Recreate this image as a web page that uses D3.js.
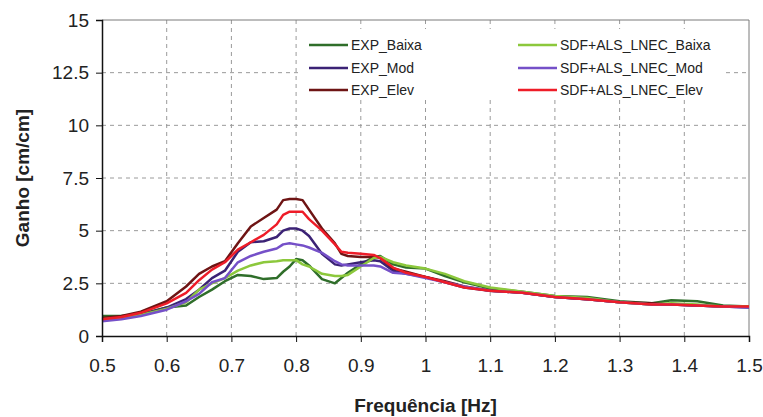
<!DOCTYPE html>
<html>
<head>
<meta charset="utf-8">
<script src="https://cdn.jsdelivr.net/npm/d3@7"></script>
<style>
  body { margin: 0; background: #fff; }
  text { font-family: "Liberation Sans", Arial, sans-serif; fill: #222; }
  .ticklbl { font-size: 19px; }
  .axtitle { font-size: 19px; font-weight: bold; }
  .leg { font-size: 14px; }
</style>
</head>
<body>
<div id="container-svg"></div>
<script>

// *********************** DATA ***********************
var freq = [0.5, 0.53, 0.56, 0.6, 0.63, 0.65, 0.67, 0.69, 0.71, 0.73, 0.75, 0.77, 0.78, 0.79,
            0.8, 0.81, 0.82, 0.84, 0.86, 0.87, 0.88, 0.9, 0.92, 0.93, 0.95, 0.97, 1.0, 1.03,
            1.06, 1.1, 1.15, 1.2, 1.25, 1.3, 1.35, 1.38, 1.42, 1.46, 1.5];

var exp_baixa = [0.95, 0.95, 1.05, 1.35, 1.45, 1.85, 2.2, 2.6, 2.9, 2.85, 2.7, 2.75, 3.05, 3.3,
                 3.65, 3.6, 3.35, 2.7, 2.5, 2.75, 3.0, 3.4, 3.75, 3.8, 3.4, 3.25, 3.2, 2.85,
                 2.55, 2.25, 2.1, 1.9, 1.85, 1.65, 1.55, 1.7, 1.65, 1.45, 1.4];
var exp_mod   = [0.75, 0.85, 1.0, 1.35, 1.75, 2.2, 2.75, 3.1, 4.0, 4.45, 4.5, 4.7, 5.0, 5.1,
                 5.1, 5.0, 4.75, 3.9, 3.4, 3.35, 3.4, 3.5, 3.6, 3.55, 3.1, 2.95, 2.8, 2.55,
                 2.3, 2.15, 2.05, 1.85, 1.75, 1.6, 1.5, 1.5, 1.45, 1.4, 1.35];
var exp_elev  = [0.85, 0.95, 1.15, 1.65, 2.35, 2.95, 3.3, 3.55, 4.4, 5.2, 5.6, 6.0, 6.45, 6.5,
                 6.5, 6.45, 6.0, 5.1, 4.4, 3.9, 3.8, 3.75, 3.75, 3.7, 3.2, 3.05, 2.8, 2.6,
                 2.35, 2.15, 2.05, 1.85, 1.75, 1.6, 1.55, 1.5, 1.45, 1.4, 1.4];
var sdf_baixa = [0.8, 0.85, 1.0, 1.3, 1.6, 2.2, 2.5, 2.75, 3.1, 3.35, 3.5, 3.55, 3.6, 3.6,
                 3.6, 3.4, 3.3, 2.95, 2.85, 2.85, 2.9, 3.3, 3.7, 3.75, 3.5, 3.35, 3.2, 2.95,
                 2.6, 2.3, 2.1, 1.9, 1.8, 1.6, 1.5, 1.55, 1.5, 1.4, 1.4];
var sdf_mod   = [0.7, 0.8, 0.95, 1.25, 1.65, 2.0, 2.55, 2.75, 3.5, 3.8, 4.0, 4.15, 4.35, 4.4,
                 4.35, 4.3, 4.2, 3.95, 3.55, 3.4, 3.35, 3.35, 3.35, 3.3, 3.0, 2.95, 2.75, 2.55,
                 2.35, 2.15, 2.05, 1.85, 1.75, 1.6, 1.5, 1.5, 1.45, 1.4, 1.35];
var sdf_elev  = [0.8, 0.9, 1.1, 1.55, 2.05, 2.65, 3.15, 3.5, 4.1, 4.45, 4.8, 5.3, 5.75, 5.9,
                 5.9, 5.9, 5.55, 5.0, 4.35, 4.0, 3.95, 3.9, 3.85, 3.7, 3.25, 3.0, 2.8, 2.55,
                 2.3, 2.15, 2.05, 1.85, 1.75, 1.6, 1.5, 1.5, 1.45, 1.4, 1.4];

var series_names = ["EXP_Baixa", "EXP_Mod", "EXP_Elev",
                    "SDF+ALS_LNEC_Baixa", "SDF+ALS_LNEC_Mod", "SDF+ALS_LNEC_Elev"];
var series_values = [exp_baixa, exp_mod, exp_elev, sdf_baixa, sdf_mod, sdf_elev];
var series_colors = ["#2f6e2a", "#3b2275", "#6e1414", "#8cc83c", "#7550c8", "#ee1c28"];

var x_ticks = [0.5, 0.6, 0.7, 0.8, 0.9, 1, 1.1, 1.2, 1.3, 1.4, 1.5];
var y_ticks = [0, 2.5, 5, 7.5, 10, 12.5, 15];

// *********************** GLOBAL DISPLAY VARS ***********************
var svg_width = 763,
    svg_height = 417,
    plot_left = 102,
    plot_right = 749,
    plot_top = 20,
    plot_bottom = 336;

var svg = d3.select("#container-svg").append("svg")
    .attr("width", svg_width)
    .attr("height", svg_height);

// ***************************** SCALES ******************************
var scale_x = d3.scaleLinear().domain([0.5, 1.5]).range([plot_left, plot_right]);
var scale_y = d3.scaleLinear().domain([0, 15]).range([plot_bottom, plot_top]);

// ***************************** GRID ******************************
svg.append("g").selectAll("line.vgrid")
    .data(x_ticks.slice(1, -1))
    .enter().append("line")
    .attr("x1", d => scale_x(d)).attr("x2", d => scale_x(d))
    .attr("y1", plot_top).attr("y2", plot_bottom)
    .attr("stroke", "#9a9a9a").attr("stroke-width", 1)
    .attr("stroke-dasharray", "4,4");

svg.append("g").selectAll("line.hgrid")
    .data(y_ticks.slice(1, -1))
    .enter().append("line")
    .attr("x1", plot_left).attr("x2", plot_right)
    .attr("y1", d => scale_y(d)).attr("y2", d => scale_y(d))
    .attr("stroke", "#9a9a9a").attr("stroke-width", 1)
    .attr("stroke-dasharray", "4,4");

// plot area frame (top / right)
svg.append("path")
    .attr("d", "M" + plot_left + "," + plot_top + "H" + plot_right + "V" + plot_bottom)
    .attr("fill", "none").attr("stroke", "#7a7a7a").attr("stroke-width", 1);

// legend background covers the grid
svg.append("rect")
    .attr("x", 298).attr("y", 29).attr("width", 424).attr("height", 68)
    .attr("fill", "#fff");

// ***************************** LINES ******************************
var line = d3.line()
    .x((d, i) => scale_x(freq[i]))
    .y(d => scale_y(d));

for (var i = 0; i < series_values.length; i++) {
    svg.append("path")
        .datum(series_values[i])
        .attr("d", line)
        .attr("fill", "none")
        .attr("stroke", series_colors[i])
        .attr("stroke-width", 2.5)
        .attr("stroke-linejoin", "round");
}

// ***************************** AXES ******************************
var axis_x = d3.axisBottom(scale_x)
    .tickValues(x_ticks)
    .tickFormat(d => d)
    .tickSize(6)
    .tickPadding(17);
var gx = svg.append("g")
    .attr("transform", "translate(0," + plot_bottom + ")")
    .call(axis_x);
gx.select(".domain").attr("stroke", "#111").attr("stroke-width", 1.5);
gx.selectAll(".tick line").attr("stroke", "#111");
gx.selectAll(".tick text").attr("class", "ticklbl").attr("fill", "#222");

var axis_y = d3.axisLeft(scale_y)
    .tickValues(y_ticks)
    .tickFormat(d => d)
    .tickSize(6)
    .tickPadding(7);
var gy = svg.append("g")
    .attr("transform", "translate(" + plot_left + ",0)")
    .call(axis_y);
gy.select(".domain").attr("stroke", "#111").attr("stroke-width", 1.5);
gy.selectAll(".tick line").attr("stroke", "#111");
gy.selectAll(".tick text").attr("class", "ticklbl").attr("fill", "#222");
gx.attr("font-family", null).attr("font-size", null);
gy.attr("font-family", null).attr("font-size", null);

// axis titles
svg.append("text")
    .attr("class", "axtitle")
    .attr("x", (plot_left + plot_right) / 2)
    .attr("y", 412)
    .attr("text-anchor", "middle")
    .text("Frequência [Hz]");

svg.append("text")
    .attr("class", "axtitle")
    .attr("transform", "translate(29," + ((plot_top + plot_bottom) / 2) + ") rotate(-90)")
    .attr("text-anchor", "middle")
    .text("Ganho [cm/cm]");

// ***************************** LEGEND ******************************
var leg_cols = [{x: 309, tx: 351}, {x: 518, tx: 560}],
    leg_rows = [45, 68, 90];

for (var i = 0; i < series_names.length; i++) {
    var c = leg_cols[Math.floor(i / 3)],
        yy = leg_rows[i % 3];
    svg.append("line")
        .attr("x1", c.x).attr("x2", c.x + 39)
        .attr("y1", yy).attr("y2", yy)
        .attr("stroke", series_colors[i]).attr("stroke-width", 2.5);
    svg.append("text")
        .attr("class", "leg")
        .attr("x", c.tx).attr("y", yy)
        .attr("dy", "0.35em")
        .text(series_names[i]);
}

</script>
</body>
</html>
